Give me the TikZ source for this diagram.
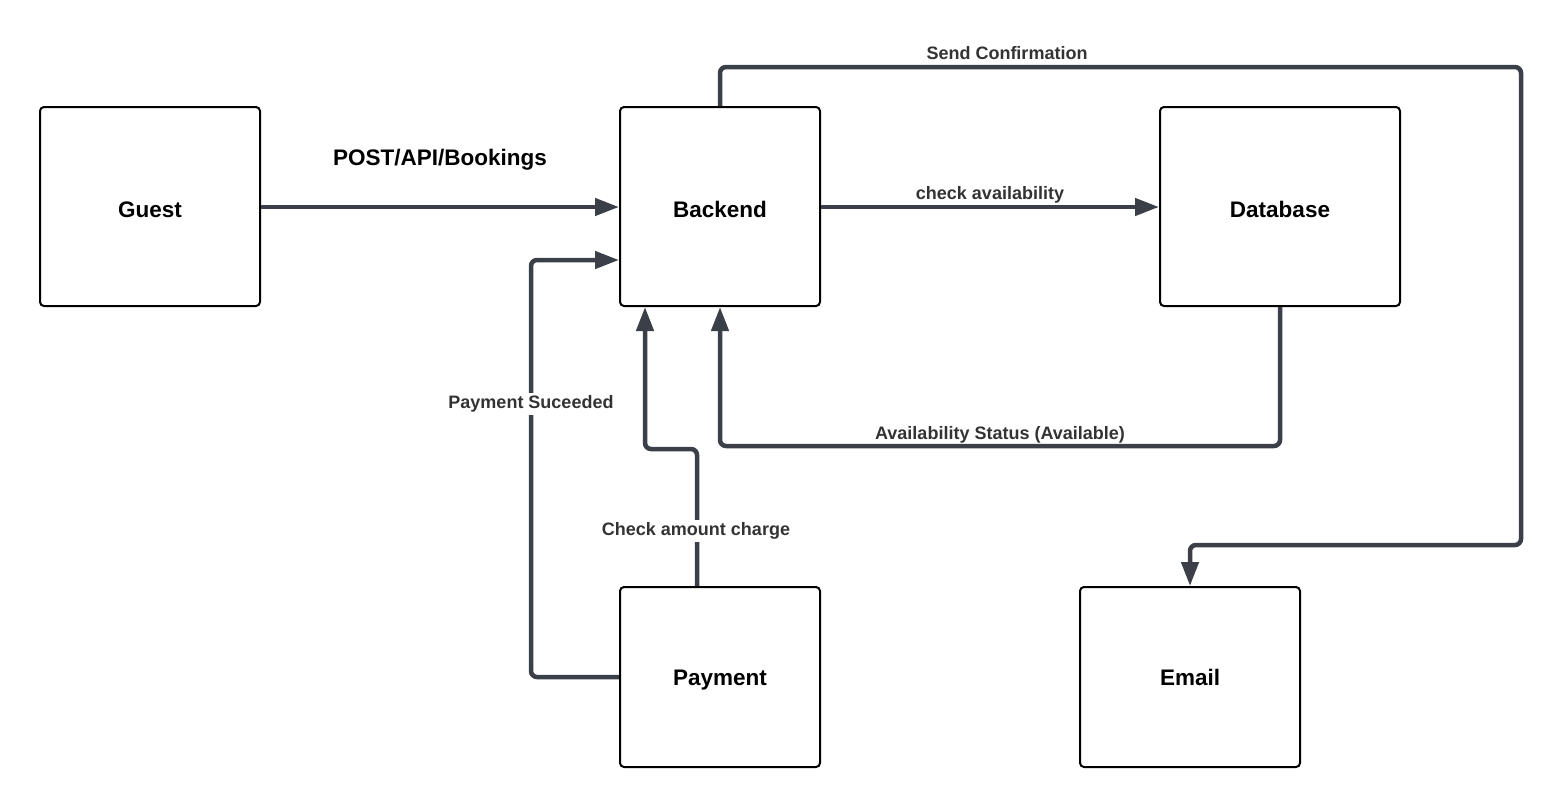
\documentclass[tikz,border=0pt]{standalone}
\usepackage{fontspec}
\setmainfont{Liberation Sans}
\usetikzlibrary{arrows.meta}
\definecolor{conn}{HTML}{3B3F47}
\definecolor{lbl}{HTML}{333333}
\tikzset{
  box/.style={draw=black, line width=2pt, rounded corners=4pt, fill=white, inner sep=0pt, text height=16pt, text depth=0pt, font=\bfseries\fontsize{22.5}{26}\selectfont},
  toprow/.style={text height=21pt},
  flow/.style={draw=conn, line width=4.5pt, rounded corners=6pt, -{Triangle[length=24pt,width=17pt]}},
  elabel/.style={font=\bfseries\fontsize{18}{21}\selectfont, text=lbl, inner sep=2pt},
  blabel/.style={elabel, fill=white, inner sep=3pt}
}
\begin{document}
\begin{tikzpicture}[x=1pt,y=-1pt]
\useasboundingbox (0,0) rectangle (1563,807);
\node[box, toprow, minimum width=220pt, minimum height=199pt] (guest) at (150,206.5) {Guest};
\node[box, toprow, minimum width=200pt, minimum height=199pt] (backend) at (720,206.5) {Backend};
\node[box, toprow, minimum width=240pt, minimum height=199pt] (db) at (1280,206.5) {Database};
\node[box, minimum width=200pt, minimum height=180pt] (pay) at (720,677) {Payment};
\node[box, minimum width=220pt, minimum height=180pt] (email) at (1190,677) {Email};

\coordinate (c1) at (720,67);
\coordinate (c2) at (1521,67);
\coordinate (c3) at (1521,545);
\coordinate (c4) at (1190,545);

% Guest -> Backend
\draw[flow, rounded corners=0pt] (guest.east |- 0,207) -- (backend.west |- 0,207);
\node[elabel, font=\bfseries\fontsize{22.5}{26}\selectfont, text=black] (l1) at (440,160) {POST/API/Bookings};
% Backend -> Database
\draw[flow, rounded corners=0pt] (backend.east |- 0,207) -- (db.west |- 0,207);
\node[elabel] (l2) at (990,195) {check availability};
% Database -> Backend
\draw[flow] (db.south) -- (1280,446) -- (720,446) -- (backend.south);
\node[elabel] (l3) at (1000,435) {Availability Status (Available)};
% Payment -> Backend (check amount)
\draw[flow] (pay.north -| 697,0) -- (697,449) -- (645,449) -- (backend.south -| 645,0);
\node[blabel] (l4) at (696,531) {Check amount charge};
% Payment -> Backend (succeeded)
\draw[flow] (pay.west) -- (531,677) -- (531,260) -- (backend.west |- 0,260);
\node[blabel] (l5) at (531,404) {Payment Suceeded};
% Backend -> Email
\draw[flow] (backend.north) -- (c1) -- (c2) -- (c3) -- (c4) -- (email.north);
\node[elabel] (l6) at (1007,53) {Send Confirmation};
\end{tikzpicture}
\end{document}
